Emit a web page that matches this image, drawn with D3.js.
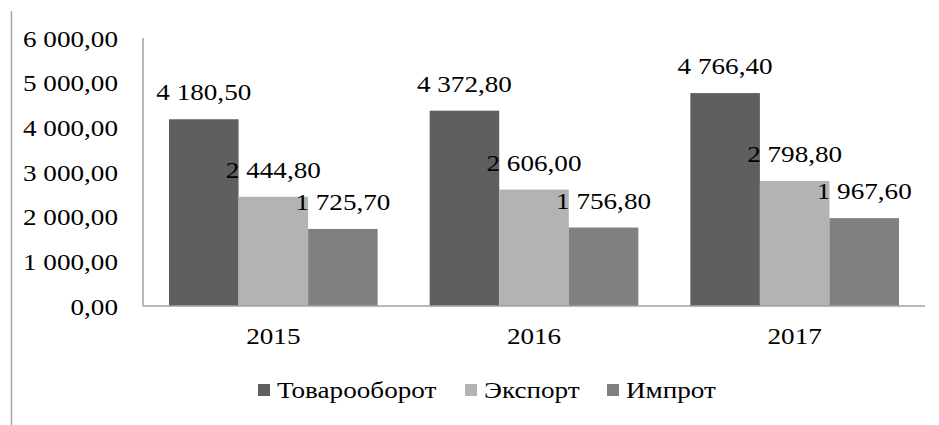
<!DOCTYPE html>
<html>
<head>
<meta charset="utf-8">
<script src="https://cdn.jsdelivr.net/npm/d3@7"></script>
<style>
  body { margin: 0; background: #fff; }
</style>
</head>
<body>
<div class="main"></div>
<script>
//// data
const years = ['2015', '2016', '2017'];
const seriesNames = ['Товарооборот', 'Экспорт', 'Импрот'];
const turnover = [4180.5, 4372.8, 4766.4];
const exports = [2444.8, 2606.0, 2798.8];
const imports = [1725.7, 1756.8, 1967.6];
const yTicks = [0, 1000, 2000, 3000, 4000, 5000, 6000];
const colors = ['#5f5f5f', '#b3b3b3', '#808080'];

const width = 939;
const height = 425;
const fontSize = 23;
const stretch = 1.18; // text in the picture is a bit wider than Times
const serif = "Liberation Serif";

const svg = d3.select('.main').append('svg')
  .attr('width', width)
  .attr('height', height)
  .style('font-family', serif);

// left border of the figure
svg.append('line')
  .attr('x1', 11.5).attr('x2', 11.5)
  .attr('y1', 11).attr('y2', height)
  .attr('stroke', '#a6a6a6').attr('stroke-width', 1.5);

const values = [turnover, exports, imports];

const xScale = d3.scaleBand()
  .domain(years)
  .range([143, 925]);

const innerScale = d3.scaleBand()
  .domain(seriesNames)
  .range([26, xScale.bandwidth() - 26]);

const yScale = d3.scaleLinear()
  .domain([0, 6000])
  .range([306, 38]);

const fmt = v => d3.format(',.2f')(v).replace(/,/g, ' ').replace('.', ',');

// y axis labels
const yAxis = d3.axisLeft(yScale)
  .tickValues(yTicks)
  .tickSize(0)
  .tickPadding(25)
  .tickFormat(fmt);

const yg = svg.append('g')
  .attr('transform', 'translate(143,0)')
  .call(yAxis)
  .attr('font-family', null)
  .attr('font-size', fontSize);
yg.select('.domain').remove();
yg.selectAll('text')
  .attr('fill', '#000')
  .attr('dy', '0.35em');

svg.append('line')
  .attr('x1', 143).attr('x2', 143)
  .attr('y1', 38).attr('y2', 306)
  .attr('stroke', '#a0a0a0').attr('stroke-width', 1.5);

// bars
const groups = svg.selectAll('.grp')
  .data(years)
  .enter()
  .append('g')
  .attr('class', 'grp')
  .attr('transform', d => `translate(${xScale(d)},0)`);

seriesNames.forEach((name, si) => {
  groups.append('rect')
    .attr('x', innerScale(name))
    .attr('y', (d, i) => yScale(values[si][i]))
    .attr('width', innerScale.bandwidth())
    .attr('height', (d, i) => yScale(0) - yScale(values[si][i]))
    .attr('fill', colors[si]);
});

seriesNames.forEach((name, si) => {
  groups.append('text')
    .attr('x', innerScale(name) + innerScale.bandwidth() / 2)
    .attr('y', (d, i) => yScale(values[si][i]) - 19)
    .attr('text-anchor', 'middle')
    .attr('font-size', fontSize)
    .text((d, i) => fmt(values[si][i]));
});

// x axis
const xAxis = d3.axisBottom(xScale).tickSize(0).tickPadding(22);
const xg = svg.append('g')
  .attr('transform', 'translate(0,306)')
  .call(xAxis)
  .attr('font-family', null)
  .attr('font-size', fontSize);
xg.select('.domain').remove();
xg.selectAll('text').attr('fill', '#000');

svg.append('line')
  .attr('x1', 143).attr('x2', 925)
  .attr('y1', 306).attr('y2', 306)
  .attr('stroke', '#a0a0a0').attr('stroke-width', 1.5);

// legend
const legendX = [258, 465, 607];
const legend = svg.selectAll('.leg')
  .data(seriesNames)
  .enter()
  .append('g')
  .attr('class', 'leg')
  .attr('transform', (d, i) => `translate(${legendX[i]},390)`);

legend.append('rect')
  .attr('x', 0).attr('y', -6)
  .attr('width', 12).attr('height', 12)
  .attr('fill', (d, i) => colors[i]);

legend.append('text')
  .attr('x', 19)
  .attr('dy', '0.35em')
  .attr('font-size', fontSize)
  .text(d => d);

// widen all text a little
svg.selectAll('text').each(function () {
  const w = this.getComputedTextLength();
  d3.select(this)
    .attr('textLength', w * stretch)
    .attr('lengthAdjust', 'spacingAndGlyphs');
});
</script>
</body>
</html>
